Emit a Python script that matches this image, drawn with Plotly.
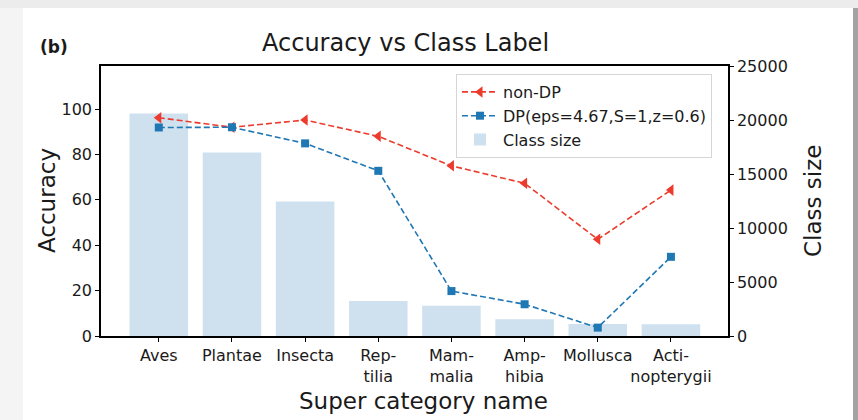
import plotly.graph_objects as go

categories = ["Aves", "Plantae", "Insecta", "Reptilia", "Mammalia", "Amphibia", "Mollusca", "Actinopterygii"]
tick_labels = ["Aves", "Plantae", "Insecta", "Rep-<br>tilia", "Mam-<br>malia", "Amp-<br>hibia", "Mollusca", "Acti-<br>nopterygii"]
class_size = [20600, 17000, 12450, 3250, 2800, 1550, 1100, 1080]
acc_non_dp = [96.2, 92.0, 95.2, 88.0, 75.0, 67.3, 42.6, 64.3]
acc_dp = [91.9, 92.0, 84.9, 72.8, 19.8, 14.0, 3.7, 34.9]
size_ticks = [0, 5000, 10000, 15000, 20000, 25000]
acc_ticks = [0, 20, 40, 60, 80, 100]

xpos = list(range(len(categories)))

FONT = "DejaVu Sans"
TXT = "#1a1a1a"

# plot-area geometry in pixels
W, H = 858, 420
L, R, T, B = 101, 728, 66, 336
pw, ph = R - L, B - T

def px(x):
    return (x - L) / pw

def py(y):
    return (B - y) / ph

fig = go.Figure()

fig.add_trace(go.Bar(
    x=xpos, y=class_size, name="Class size", width=0.8,
    marker=dict(color="#cfe0ef", line=dict(width=0)),
    yaxis="y", showlegend=True, legendrank=3,
))
fig.add_trace(go.Scatter(
    x=xpos, y=acc_non_dp, name="non-DP", mode="lines+markers",
    line=dict(color="#ec3b2c", width=1.6, dash="6px,3px"),
    marker=dict(symbol="triangle-left", size=10, color="#ec3b2c"),
    yaxis="y2", legendrank=1,
))
fig.add_trace(go.Scatter(
    x=xpos, y=acc_dp, name="DP(eps=4.67,S=1,z=0.6)", mode="lines+markers",
    line=dict(color="#1f77b4", width=1.6, dash="6px,3px"),
    marker=dict(symbol="square", size=8, color="#1f77b4"),
    yaxis="y2", legendrank=2,
))

shapes = [
    dict(type="rect", xref="paper", yref="paper", x0=px(-5), x1=px(23), y0=py(425), y1=py(8),
         fillcolor="#f4f4f4", line=dict(width=0), layer="below"),
    dict(type="rect", xref="paper", yref="paper", x0=px(23), x1=px(853), y0=py(425), y1=py(8),
         fillcolor="white", line=dict(width=0), layer="below"),
    dict(type="rect", xref="paper", yref="paper", x0=px(853), x1=px(862), y0=py(425), y1=py(8),
         fillcolor="#a3a3a3", line=dict(width=0), layer="below"),
]

title_font = dict(family=FONT, size=23, color=TXT)

def ann(text, x, y, size=None, font=None, angle=0, xanchor="center"):
    return dict(text=text, x=px(x), y=py(y), xref="paper", yref="paper", xanchor=xanchor,
                yanchor="middle", showarrow=False, textangle=angle,
                font=font or dict(family=FONT, size=size, color=TXT))

annotations = [
    ann("<b>(b)</b>", 38, 47, size=17, xanchor="left"),
    ann("Accuracy vs Class Label", 405, 43, size=24),
    ann("Accuracy", 47, 201, font=title_font, angle=-90),
    ann("Class size", 813, 201, font=title_font, angle=-90),
    ann("Super category name", 423, 401, font=title_font),
]

tick_font = dict(family=FONT, size=16, color=TXT)

fig.update_layout(
    width=W, height=H,
    margin=dict(l=L, r=W - R, t=T, b=H - B, pad=0, autoexpand=False),
    paper_bgcolor="#ececec", plot_bgcolor="rgba(0,0,0,0)",
    font=dict(family=FONT, size=16, color=TXT),
    shapes=shapes, annotations=annotations,
    xaxis=dict(
        tickmode="array", tickvals=xpos, ticktext=tick_labels, tickangle=0,
        range=[-0.79, 7.78], showgrid=False, zeroline=False,
        showline=True, linecolor="black", linewidth=1.5, mirror=True,
        ticks="outside", ticklen=4, tickcolor="black",
        tickfont=tick_font,
    ),
    yaxis=dict(
        side="right", range=[0, 25000], tickmode="array", tickvals=size_ticks,
        ticktext=[str(v) for v in size_ticks],
        showgrid=False, zeroline=False, showline=True, linecolor="black", linewidth=1.5,
        ticks="outside", ticklen=4, tickcolor="black",
        tickfont=tick_font,
    ),
    yaxis2=dict(
        side="left", overlaying="y", range=[0, 119], tickmode="array", tickvals=acc_ticks,
        showgrid=False, zeroline=False, showline=True, linecolor="black", linewidth=1.5,
        ticks="outside", ticklen=4, tickcolor="black",
        tickfont=tick_font,
    ),
    legend=dict(
        x=px(456), y=py(74), xanchor="left", yanchor="top",
        bgcolor="white", bordercolor="#d5d5d5", borderwidth=1,
        font=dict(family=FONT, size=16, color=TXT),
        itemwidth=36, tracegroupgap=0,
    ),
)

fig.write_html("out.html", config={"displayModeBar": False},
               post_script="document.body.style.margin='0';document.body.style.background='#ececec';")
